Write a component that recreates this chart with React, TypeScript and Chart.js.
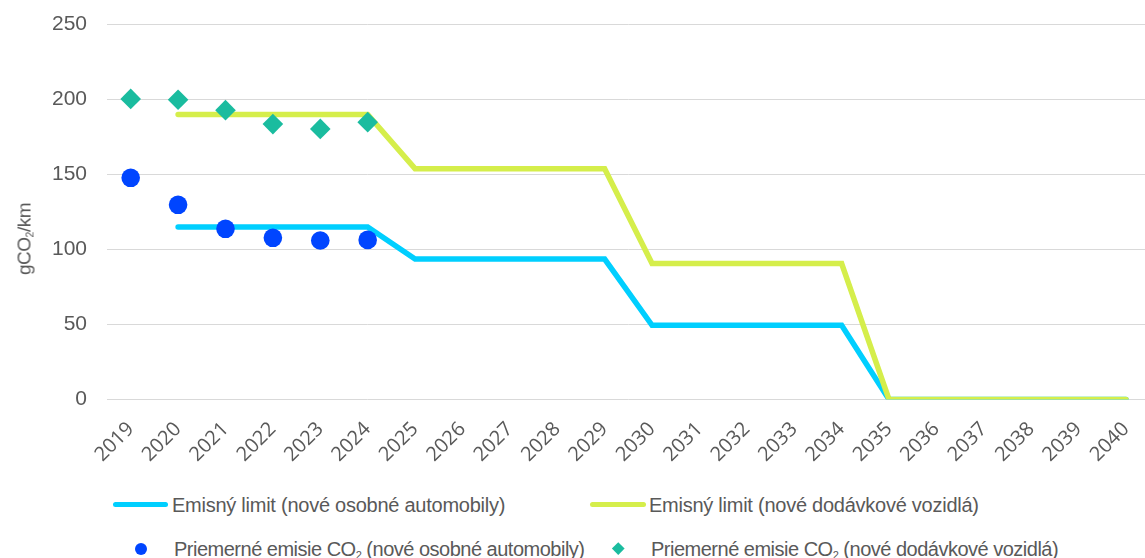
import React, { useEffect, useRef } from 'react';
import { Chart, registerables } from 'chart.js';

Chart.register(...registerables);

const years = ['2019', '2020', '2021', '2022', '2023', '2024', '2025', '2026', '2027', '2028', '2029', '2030', '2031', '2032', '2033', '2034', '2035', '2036', '2037', '2038', '2039', '2040'];

const carLimit = [null, 115, 115, 115, 115, 115, 93.6, 93.6, 93.6, 93.6, 93.6, 49.5, 49.5, 49.5, 49.5, 49.5, 0, 0, 0, 0, 0, 0];
const vanLimit = [null, 190, 190, 190, 190, 190, 153.9, 153.9, 153.9, 153.9, 153.9, 90.6, 90.6, 90.6, 90.6, 90.6, 0, 0, 0, 0, 0, 0];
const carAvg = [147.8, 129.8, 113.8, 107.8, 106.0, 106.4, null, null, null, null, null, null, null, null, null, null, null, null, null, null, null, null];
const vanAvg = [200.4, 199.8, 192.9, 183.6, 180.4, 184.9, null, null, null, null, null, null, null, null, null, null, null, null, null, null, null, null];

const yMin = 0;
const yMax = 250;
const yStep = 50;

const labelCarLimit = 'Emisný limit (nové osobné automobily)';
const labelVanLimit = 'Emisný limit (nové dodávkové vozidlá)';
const labelCarAvg = 'Priemerné emisie CO₂ (nové osobné automobily)';
const labelVanAvg = 'Priemerné emisie CO₂ (nové dodávkové vozidlá)';

const colCarLimit = '#00CFFF';
const colVanLimit = '#D5EE4B';
const colCarAvg = '#0045FF';
const colVanAvg = '#1ABC9F';
const textCol = '#595959';
const FONT = '"Liberation Sans", Arial, sans-serif';

function Sub2({ text }: { text: string }) {
  const parts = text.split('₂');
  return (
    <span>
      {parts.map((p, i) => (
        <React.Fragment key={i}>
          {p}
          {i < parts.length - 1 && <sub style={{ fontSize: '0.55em', verticalAlign: '-0.25em', lineHeight: 0 }}>2</sub>}
        </React.Fragment>
      ))}
    </span>
  );
}

function LegendItem({ kind, color, label, top, swatchLeft, swatchWidth, textLeft, spacing }: any) {
  let swatch: any;
  if (kind === 'line') {
    swatch = <div style={{ position: 'absolute', left: swatchLeft, top: 12 - 2.75, width: swatchWidth, height: 5.5, borderRadius: 3, background: color }} />;
  } else if (kind === 'circle') {
    swatch = <div style={{ position: 'absolute', left: swatchLeft - 6, top: 12 - 6, width: 12, height: 12, borderRadius: 6, background: color }} />;
  } else {
    swatch = <div style={{ position: 'absolute', left: swatchLeft - 4.25, top: 12 - 4.25, width: 8.5, height: 8.5, background: color, transform: 'rotate(45deg)' }} />;
  }
  return (
    <div style={{ position: 'absolute', left: 0, top, height: 24 }}>
      {swatch}
      <div style={{ position: 'absolute', left: textLeft, top: 0, lineHeight: '24px', fontSize: 20, letterSpacing: spacing, whiteSpace: 'nowrap', color: textCol }}>
        <Sub2 text={label} />
      </div>
    </div>
  );
}

export default function App() {
  const ref = useRef<HTMLCanvasElement>(null);

  useEffect(() => {
    document.body.style.margin = '0';
    const ctx = ref.current!;
    const chart = new Chart(ctx, {
      type: 'line',
      data: {
        labels: years,
        datasets: [
          {
            label: labelVanAvg,
            data: vanAvg,
            showLine: false,
            pointStyle: 'rectRot',
            pointRadius: 10.3,
            pointBackgroundColor: colVanAvg,
            pointBorderWidth: 0,
            pointBorderColor: colVanAvg,
            borderColor: colVanAvg,
            backgroundColor: colVanAvg,
            order: 0,
          },
          {
            label: labelCarAvg,
            data: carAvg,
            showLine: false,
            pointStyle: 'circle',
            pointRadius: 9.3,
            pointBackgroundColor: colCarAvg,
            pointBorderWidth: 0,
            pointBorderColor: colCarAvg,
            borderColor: colCarAvg,
            backgroundColor: colCarAvg,
            order: 1,
          },
          {
            label: labelVanLimit,
            data: vanLimit,
            borderColor: colVanLimit,
            backgroundColor: colVanLimit,
            borderWidth: 5.5,
            borderCapStyle: 'round',
            borderJoinStyle: 'miter',
            pointRadius: 0,
            tension: 0,
            order: 2,
          },
          {
            label: labelCarLimit,
            data: carLimit,
            borderColor: colCarLimit,
            backgroundColor: colCarLimit,
            borderWidth: 5.5,
            borderCapStyle: 'round',
            borderJoinStyle: 'miter',
            pointRadius: 0,
            tension: 0,
            order: 3,
          },
        ],
      },
      options: {
        animation: false,
        responsive: false,
        maintainAspectRatio: false,
        layout: { padding: { top: 24.5, left: 0, right: 4, bottom: 0 } },
        plugins: {
          legend: { display: false },
          tooltip: { enabled: false },
          title: { display: false },
        },
        scales: {
          x: {
            type: 'category',
            offset: true,
            grid: { display: false },
            border: { display: false },
            ticks: {
              autoSkip: false,
              minRotation: 45,
              maxRotation: 45,
              padding: 10,
              color: textCol,
              font: { family: '"Open Sans", sans-serif', size: 20 },
            },
            afterFit: (s: any) => {
              s.height = 480 - 399.5;
            },
          },
          y: {
            min: yMin,
            max: yMax,
            ticks: {
              stepSize: yStep,
              padding: 20,
              color: textCol,
              font: { family: FONT, size: 21 },
            },
            grid: { color: '#D9D9D9', lineWidth: 1, drawTicks: false },
            border: { display: false },
            afterFit: (s: any) => {
              s.width = 107;
              s.paddingTop = 0;
              s.paddingBottom = 0;
            },
          },
        },
      },
    } as any);
    return () => chart.destroy();
  }, []);

  return (
    <div style={{ position: 'relative', width: 1145, height: 558, overflow: 'hidden', fontFamily: FONT, background: '#fff' }}>
      <canvas ref={ref} width={1160} height={480} style={{ position: 'absolute', left: 0, top: 0, width: 1160, height: 480 }} />
      <div
        style={{
          position: 'absolute',
          left: 24,
          top: 238.5,
          transform: 'translate(-50%, -50%) rotate(-90deg)',
          fontSize: 19,
          lineHeight: 1,
          letterSpacing: '-0.5px',
          whiteSpace: 'nowrap',
          color: textCol,
        }}
      >
        <Sub2 text="gCO₂/km" />
      </div>
      <LegendItem kind="line" color={colCarLimit} label={labelCarLimit} top={492.5} swatchLeft={113} swatchWidth={55} textLeft={172} spacing="-0.25px" />
      <LegendItem kind="line" color={colVanLimit} label={labelVanLimit} top={492.5} swatchLeft={590} swatchWidth={56} textLeft={649} spacing="-0.25px" />
      <LegendItem kind="circle" color={colCarAvg} label={labelCarAvg} top={536.5} swatchLeft={141} textLeft={174} spacing="-0.5px" />
      <LegendItem kind="diamond" color={colVanAvg} label={labelVanAvg} top={536.5} swatchLeft={618} textLeft={651} spacing="-0.5px" />
    </div>
  );
}
